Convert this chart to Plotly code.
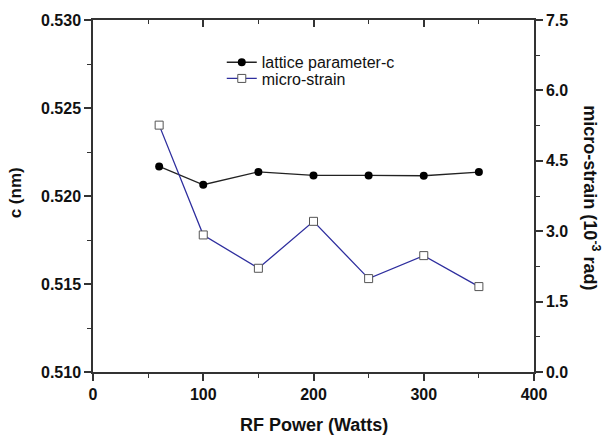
import plotly.graph_objects as go

rf_power = [60, 100, 150, 200, 250, 300, 350]
lattice_c = [0.52168, 0.52064, 0.52137, 0.52117, 0.52117, 0.52115, 0.52136]
micro_strain = [5.26, 2.92, 2.21, 3.21, 1.99, 2.48, 1.82]

left_ticks = [0.510, 0.515, 0.520, 0.525, 0.530]
right_ticks = [0.0, 1.5, 3.0, 4.5, 6.0, 7.5]
x_ticks = [0, 100, 200, 300, 400]

FONT = "Liberation Sans, Arial, sans-serif"
AX = "#333333"

fig = go.Figure()
fig.add_trace(go.Scatter(
    x=rf_power, y=lattice_c, name="lattice parameter-c", mode="lines+markers",
    line=dict(color="#222222", width=1.3),
    marker=dict(symbol="circle", size=8, color="#000000"),
    xaxis="x", yaxis="y", legend="legend"))
fig.add_trace(go.Scatter(
    x=rf_power, y=micro_strain, name="micro-strain", mode="lines+markers",
    line=dict(color="#2e2e9e", width=1.3),
    marker=dict(symbol="square", size=8, color="white", line=dict(color="#555555", width=1)),
    xaxis="x", yaxis="y2", legend="legend2"))
# invisible helper trace for the top (mirrored) axis
fig.add_trace(go.Scatter(x=[rf_power[0]], y=[lattice_c[0]], mode="markers",
                         marker=dict(opacity=0), showlegend=False, hoverinfo="skip",
                         xaxis="x2", yaxis="y"))

tickfont = dict(family=FONT, size=16, color="#111111", weight="bold")
legfont = dict(family=FONT, size=16, color="#111111")

fig.update_layout(
    width=608, height=441,
    margin=dict(l=93, r=74, t=14, b=69),
    paper_bgcolor="white", plot_bgcolor="white",
    showlegend=True,
    legend=dict(x=0.292, y=0.928, xanchor="left", yanchor="top",
                bgcolor="rgba(0,0,0,0)", font=legfont, itemwidth=30),
    legend2=dict(x=0.292, y=0.882, xanchor="left", yanchor="top",
                 bgcolor="rgba(0,0,0,0)", font=legfont, itemwidth=30),
    xaxis=dict(range=[0, 400], tickvals=x_ticks, ticks="outside", ticklen=7, tickwidth=1.5,
               tickcolor=AX, showline=True, linecolor=AX, linewidth=1.5, showgrid=False,
               zeroline=False, tickfont=tickfont,
               minor=dict(dtick=50, ticks="outside", ticklen=4, tickcolor=AX, tickwidth=1.2)),
    xaxis2=dict(range=[0, 400], overlaying="x", side="top", matches="x", tickvals=x_ticks,
                ticks="inside", ticklen=7, tickwidth=1.5, tickcolor=AX, showline=True,
                linecolor=AX, linewidth=1.5, showgrid=False, zeroline=False,
                showticklabels=False,
                minor=dict(dtick=50, ticks="inside", ticklen=4, tickcolor=AX, tickwidth=1.2)),
    yaxis=dict(range=[0.510, 0.530], tickvals=left_ticks, tickformat=".3f", ticks="outside",
               ticklen=7, tickwidth=1.5, tickcolor=AX, showline=True, linecolor=AX,
               linewidth=1.5, showgrid=False, zeroline=False, tickfont=tickfont,
               minor=dict(dtick=0.0025, ticks="outside", ticklen=4, tickcolor=AX, tickwidth=1.2)),
    yaxis2=dict(range=[0, 7.5], tickvals=right_ticks, tickformat=".1f", overlaying="y",
                side="right", ticks="outside", ticklen=7, tickwidth=1.5, tickcolor=AX,
                showline=True, linecolor=AX, linewidth=1.5, showgrid=False, zeroline=False,
                tickfont=tickfont,
                minor=dict(dtick=0.75, ticks="outside", ticklen=4, tickcolor=AX, tickwidth=1.2)),
    annotations=[
        dict(text="RF Power (Watts)", xref="paper", yref="paper", x=0.5, y=-0.151,
             xanchor="center", yanchor="middle", showarrow=False,
             font=dict(family=FONT, size=18, color="#111111", weight="bold")),
        dict(text="c (nm)", xref="paper", yref="paper", x=-0.175, y=0.51,
             xanchor="center", yanchor="middle", showarrow=False, textangle=-90,
             font=dict(family=FONT, size=17, color="#111111", weight="bold")),
        dict(text="micro-strain (10<sup>-3</sup> rad)", xref="paper", yref="paper",
             x=1.131, y=0.494, xanchor="center", yanchor="middle", showarrow=False,
             textangle=90,
             font=dict(family=FONT, size=18, color="#111111", weight="bold")),
    ],
)

fig.write_html("out.html")
